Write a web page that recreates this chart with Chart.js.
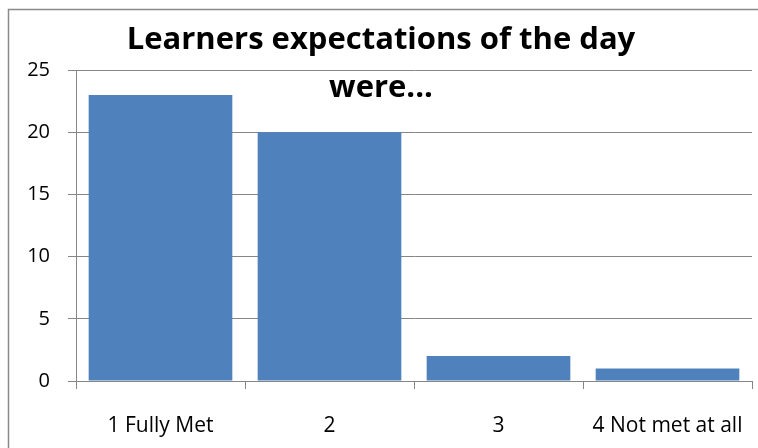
<!DOCTYPE html>
<html>
<head>
<meta charset="utf-8">
<script src="https://cdn.jsdelivr.net/npm/chart.js@4/dist/chart.umd.min.js"></script>
<style>
  html, body { margin: 0; padding: 0; background: #fff; }
  #wrap { width: 758px; height: 448px; position: relative; }
</style>
</head>
<body>
<div id="wrap"><canvas id="c" width="758" height="448"></canvas></div>
<script>
const categories = ["1 Fully Met", "2", "3", "4 Not met at all"];
const values = [23, 20, 2, 1];
const yTicks = [0, 5, 10, 15, 20, 25];
const titleLines = ["Learners expectations of the day", "were..."];

const FONT = "'Open Sans', 'Liberation Sans', sans-serif";
const GRID = "#868686";

const frameAndTitle = {
  id: 'frameAndTitle',
  beforeDraw(chart) {
    const ctx = chart.ctx;
    ctx.save();
    ctx.fillStyle = '#fff';
    ctx.fillRect(0, 0, chart.width, chart.height);
    ctx.strokeStyle = '#8a8a8a';
    ctx.lineWidth = 1.5;
    ctx.strokeRect(8.5, 9.5, chart.width + 10, chart.height + 10);
    ctx.restore();
  },
  afterDraw(chart) {
    const ctx = chart.ctx;
    ctx.save();
    ctx.fillStyle = '#000';
    ctx.textAlign = 'center';
    ctx.textBaseline = 'middle';
    ctx.font = "bold 31px " + FONT;
    ctx.fillText(titleLines[0], 381, 40);
    ctx.fillText(titleLines[1], 381, 88);
    ctx.restore();
  }
};

new Chart(document.getElementById('c'), {
  type: 'bar',
  data: {
    labels: categories,
    datasets: [{
      data: values,
      backgroundColor: '#4F81BD',
      borderWidth: 0,
      barPercentage: 0.85,
      categoryPercentage: 1.0
    }]
  },
  options: {
    responsive: false,
    animation: false,
    devicePixelRatio: 1,
    layout: { padding: { top: 70, right: 6, left: 0, bottom: 0 } },
    plugins: { legend: { display: false }, title: { display: false }, tooltip: { enabled: false } },
    scales: {
      x: {
        grid: { offset: true, drawOnChartArea: false, color: GRID, tickLength: 8, lineWidth: 1 },
        border: { color: GRID, width: 1 },
        ticks: { color: '#000', font: { family: FONT, size: 21 }, padding: 24, maxRotation: 0, autoSkip: false },
        afterFit(s) { s.height = 67; s.paddingLeft = 0; s.paddingRight = 0; }
      },
      y: {
        min: 0, max: 25,
        afterBuildTicks(s) { s.ticks = yTicks.map(v => ({ value: v })); },
        grid: { color: GRID, tickLength: 8, lineWidth: 1 },
        border: { color: GRID, width: 1 },
        ticks: { color: '#000', font: { family: FONT, size: 20 }, padding: 18 },
        afterFit(s) { s.width = 76; s.paddingTop = 0; s.paddingBottom = 0; }
      }
    }
  },
  plugins: [frameAndTitle]
});
</script>
</body>
</html>
